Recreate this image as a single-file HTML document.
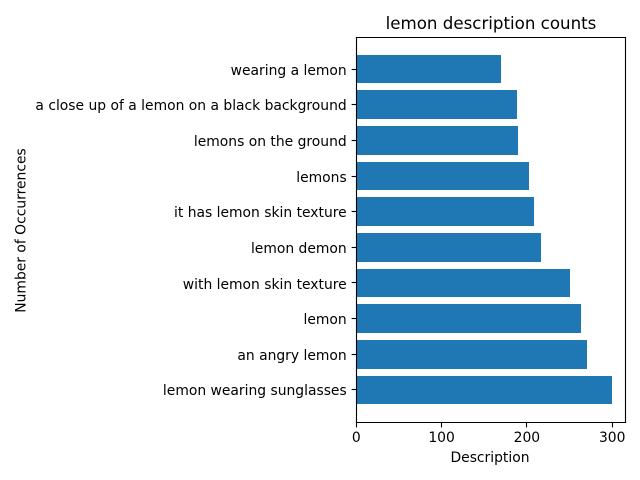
<!DOCTYPE html>
<html>
<head>
<meta charset="utf-8">
<title>lemon description counts</title>
<style>
html,body{margin:0;padding:0;background:#fff;width:640px;height:480px;overflow:hidden}
svg{display:block}
text{font-family:"DejaVu Sans",sans-serif;fill:#000}
</style>
</head>
<body>
<svg id="chart" xmlns="http://www.w3.org/2000/svg" width="640" height="480" viewBox="0 0 640 480">
<rect x="0" y="0" width="640" height="480" fill="#fff"/>
<g id="bars"></g>
<g id="yticks"></g>
<g id="xticks"></g>
<g stroke="#000" stroke-width="1.11" stroke-linecap="square" fill="none">
<line x1="356.5" y1="37.5" x2="356.5" y2="422.5"/>
<line x1="625.5" y1="37.5" x2="625.5" y2="422.5"/>
<line x1="356.5" y1="37.5" x2="625.5" y2="37.5"/>
<line x1="356.5" y1="422.5" x2="625.5" y2="422.5"/>
</g>
<text x="491" y="29" font-size="16.67" text-anchor="middle">lemon description counts</text>
<text x="490" y="462" font-size="13.89" text-anchor="middle">Description</text>
<text x="0" y="0" font-size="13.89" text-anchor="middle" transform="translate(25.5 230.5) rotate(-90)">Number of Occurrences</text>
</svg>
<script>
var categories = ["lemon wearing sunglasses","an angry lemon","lemon","with lemon skin texture","lemon demon","it has lemon skin texture","lemons","lemons on the ground","a close up of a lemon on a black background","wearing a lemon"];
var counts = [300,270,263,250,216,208,202,190,188,170];
var xTickValues = [0,100,200,300];

var plot = {left:356.3,right:625,top:37.38,bottom:421.62};
var barThickness = 0.8;
var svgNS = "http://www.w3.org/2000/svg";

function maxOf(list){ return Math.max.apply(null, list); }
function xScale(v){
  var xMax = maxOf(counts) * 1.05;
  return plot.left + v / xMax * (plot.right - plot.left);
}
function yScale(i){
  var n = categories.length;
  var lo = -barThickness / 2, hi = n - 1 + barThickness / 2;
  var pad = (hi - lo) * 0.05;
  return plot.bottom - (i - (lo - pad)) / ((hi + pad) - (lo - pad)) * (plot.bottom - plot.top);
}
function make(tag, attrs, parent){
  var el = document.createElementNS(svgNS, tag);
  for (var k in attrs) el.setAttribute(k, attrs[k]);
  parent.appendChild(el);
  return el;
}

var barsG = document.getElementById("bars");
var yG = document.getElementById("yticks");
var xG = document.getElementById("xticks");
var axisLineX = 356.5;
var axisLineY = 422.5;

categories.forEach(function(label, i){
  var x0 = axisLineX;
  var x1 = Math.round(xScale(counts[i]));
  var yTop = Math.round(yScale(i + barThickness / 2));
  var yBot = Math.round(yScale(i - barThickness / 2));
  var bar = make("rect", {x:x0, y:yTop, width:Math.max(0, x1 - x0), height:yBot - yTop, fill:"#1f77b4", "shape-rendering":"crispEdges"}, barsG);
  
  

  var yc = Math.floor(yScale(i)) + 0.5;
  var tick = make("line", {x1:axisLineX - 4.86, x2:axisLineX, y1:yc, y2:yc, stroke:"#000", "stroke-width":1.11}, yG);
  
  
  var txt = make("text", {x:axisLineX - 9.8, y:Math.round(yScale(i) + 5.55), "font-size":13.89, "text-anchor":"end"}, yG);
  
  
  txt.textContent = label;
});

xTickValues.forEach(function(v){
  var xc = Math.round(xScale(v) - 0.5) + 0.5;
  var tick = make("line", {x1:xc, x2:xc, y1:axisLineY, y2:axisLineY + 4.86, stroke:"#000", "stroke-width":1.11}, xG);
  
  
  var txt = make("text", {x:xScale(v), y:442, "font-size":13.89, "text-anchor":"middle"}, xG);
  
  
  txt.textContent = v;
});
</script>
</body>
</html>
